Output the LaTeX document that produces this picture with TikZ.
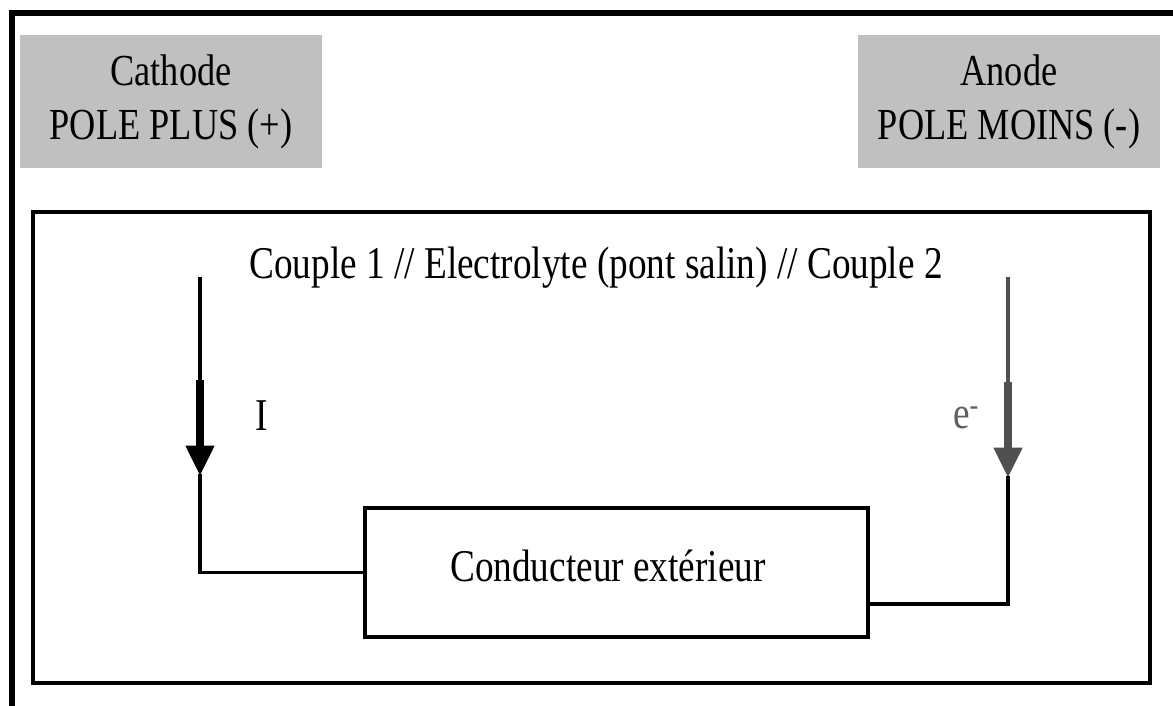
\documentclass[tikz,border=0pt]{standalone}
\usepackage{fontspec}
\setmainfont{Liberation Serif}
\usetikzlibrary{arrows.meta}
\definecolor{boxgray}{RGB}{192,192,192}
\definecolor{darkarrow}{RGB}{80,80,80}
\definecolor{labgray}{RGB}{95,95,95}
\newcommand{\tall}[1]{\scalebox{1}[1.22]{#1}}
\tikzset{
  txt/.style={font=\fontsize{31.8}{37}\selectfont, inner sep=0pt},
  polebox/.style={fill=boxgray, draw=none, minimum width=302*0.03cm, minimum height=133*0.03cm, align=center, font=\fontsize{31}{46}\selectfont},
  wire/.style={line width=2.6pt, line cap=rect},
  thinpart/.style={line width=3.2pt},
  thickpart/.style={line width=7pt, -{Triangle[width=23pt,length=26pt]}},
}
\begin{document}
\begin{tikzpicture}[x=0.03cm,y=-0.03cm]
\clip (0,0) rectangle (1173,706);
\fill[white] (0,0) rectangle (1173,706);
% outer frame (only top and left are visible)
\draw[line width=5.2pt] (1200,13) -- (12,13) -- (12,720);
% pole boxes
\node[polebox] (cath) at (171,101.5) {\tall{Cathode}\\\tall{POLE PLUS (+)}};
\node[polebox] (anod) at (1009,101.5) {\tall{Anode}\\\tall{POLE MOINS (-)}};
% inner frame
\node[draw, line width=2.6pt, minimum width=1117*0.03cm, minimum height=471*0.03cm, inner sep=0pt] (frame) at (591.5,447.5) {};
\node[txt] (couple) at (596,268) {\tall{Couple 1 // Electrolyte (pont salin) // Couple 2}};
% conductor box
\node[draw, line width=2.6pt, minimum width=503*0.03cm, minimum height=129*0.03cm, inner sep=0pt] (cond) at (616.5,572.5) {};
\node[txt] (condlabel) at (608,566) {\tall{Conducteur extérieur}};
% left arrow (I)
\coordinate (lt) at (200,277);
\coordinate (lm) at (200,380);
\coordinate (lh) at (200,476);
\draw[thinpart] (lt) -- (lm);
\draw[thickpart] (lm) -- (lh);
\draw[wire] (lh) |- (cond.west);
\node[txt] (lI) at (262,416) {\tall{I}};
% right arrow (e-)
\coordinate (rt) at (1008,277);
\coordinate (rm) at (1008,382);
\coordinate (rh) at (1008,478);
\coordinate (rw) at (868,604);
\draw[thinpart, darkarrow] (rt) -- (rm);
\draw[thickpart, darkarrow] (rm) -- (rh);
\draw[wire] (rh) |- (rw);
\node[txt, text=labgray] (le) at (966,418) {\tall{e\textsuperscript{-}}};
\end{tikzpicture}
\end{document}
